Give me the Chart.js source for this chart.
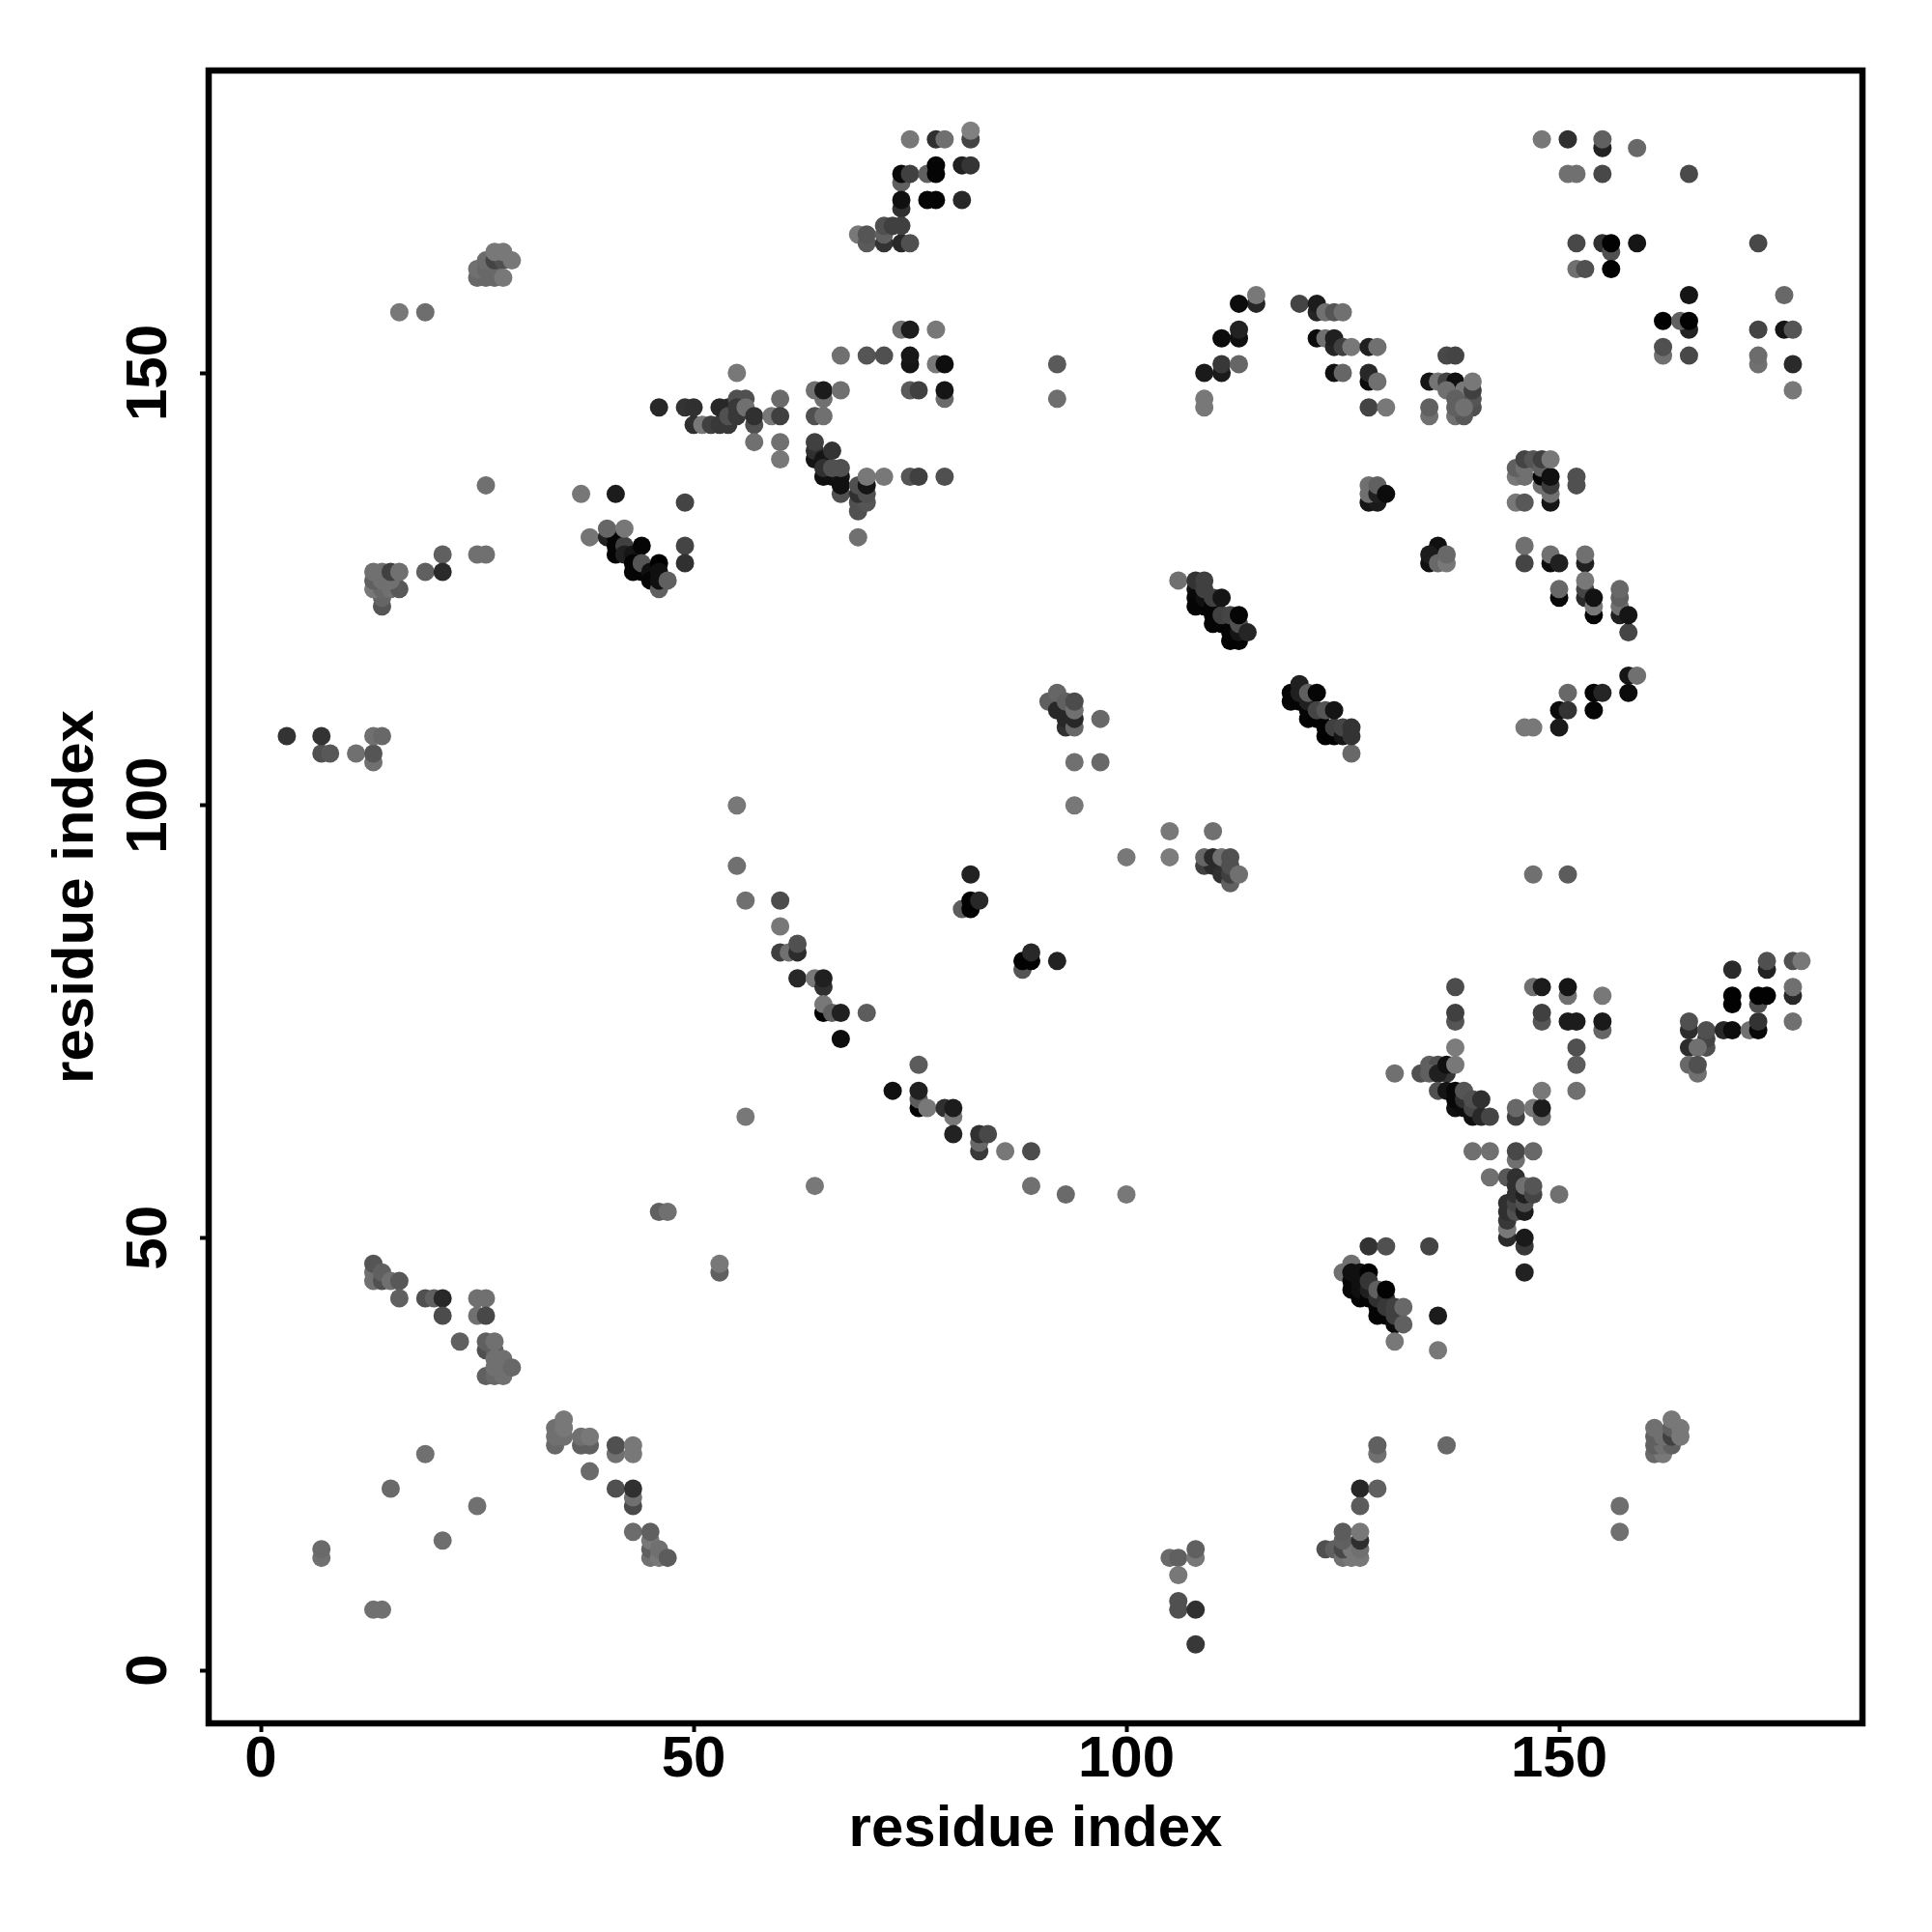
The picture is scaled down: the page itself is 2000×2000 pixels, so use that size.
<!DOCTYPE html>
<html>
<head>
<meta charset="utf-8">
<script src="https://cdn.jsdelivr.net/npm/chart.js@4/dist/chart.umd.min.js"></script>
<style>
  html, body { margin: 0; background: #fff; }
  canvas { display: block; }
</style>
</head>
<body>
<canvas id="chart" width="2000" height="2000"></canvas>
<script>
// one line per cluster, the same line in all three arrays
const residueX = [
  16,19,
  25,26,27,25,26,27,26,27,28,29,28,27,28,
  26,37,41,49,49,49,21,25,26,19,21,
  14,14,13,14,15,16,13,14,15,13,14,15,16,
  38,40,41,41,41,42,42,43,44,43,43,44,44,45,45,46,46,46,46,47,40,42,
  46,49,50,50,51,52,53,54,53,54,54,55,55,56,55,56,57,57,55,57,59,60,60,60,60,
  75,78,79,82,82,74,74,75,77,78,78,81,82,74,74,77,78,81,69,70,72,74,75,70,72,72,73,74,
  74,75,78,67,70,72,75,75,78,79,92,92,64,65,65,67,75,76,79,79,64,65,
  64,64,65,65,66,67,67,67,65,66,67,66,64,69,69,70,69,70,69,70,70,72,75,76,79,69,
  115,115,113,120,122,122,123,124,125,113,113,111,122,123,124,124,125,126,111,111,113,109,124,125,109,109,
  106,108,108,108,109,109,108,109,109,110,110,110,110,111,111,111,112,113,112,113,112,113,113,114,
  148,151,155,155,159,151,152,155,165,152,155,156,156,159,173,152,153,156,165,176,162,165,164,165,173,176,177,162,162,165,173,173,177,177,
  128,129,128,128,129,128,130,137,138,
  135,136,137,138,138,137,139,138,140,140,140,140,135,135,138,139,138,139,
  145,146,145,146,146,147,148,148,148,148,149,149,149,149,149,152,152,145,146,
  128,129,128,128,129,129,130,
  136,135,135,136,137,137,
  146,146,149,149,150,153,153,150,150,153,153,153,154,154,154,157,157,157,157,158,158,
  119,119,120,120,120,121,121,121,121,122,122,122,123,123,123,124,124,124,125,125,126,126,126,
  158,159,158,151,154,155,154,150,151,150,146,147,
  105,110,105,100,109,110,109,110,111,111,112,112,112,112,113,147,151,
  138,147,148,151,151,155,138,138,148,148,151,152,155,155,138,152,152,152,
  131,134,135,136,137,135,136,137,138,
  136,137,138,138,138,139,139,139,140,140,140,141,141,142,
  145,145,147,148,148,148,140,142,145,145,147,
  170,170,170,165,165,167,167,167,169,170,165,166,165,166,166,172,173,173,173,173,174,174,174,177,178,177,177,177,
  142,144,145,145,144,144,144,144,144,145,145,145,146,146,146,146,147,147,150,146,146,146,
  128,130,135,
  125,126,126,126,126,127,127,127,128,127,128,128,128,129,129,129,129,130,130,130,130,131,131,131,132,132,131,136,136,
  129,129,137,127,129,127,157,157,
  161,162,161,162,163,161,162,163,161,163,164,164,163,
  123,124,125,126,127,125,126,127,125,125,127,127,
  7,7,15,19,21,25,13,14,
  34,34,34,35,35,35,37,38,37,38,38,41,41,43,43,41,43,43,43,43,45,45,45,45,46,46,47,
  3,7,7,8,11,13,13,13,14,
  13,13,13,14,14,15,16,16,19,20,21,21,23,25,26,25,26,26,27,26,27,26,27,28,27,28,27,28,29,
  55,55,56,60,60,60,61,62,62,62,64,65,65,65,65,66,67,70,67,
  82,81,82,82,83,88,88,89,89,92,
  94,76,73,76,76,76,77,79,80,80,80,83,83,83,84,86,89,89,93,100,56,64,53,53,46,47,
  91,92,92,93,93,93,93,94,94,94,94,97,94,97,
  105,106,108,108,106,106,106,108,108
];
const residueY = [
  157,157,
  161,161,161,162,162,162,163,163,163,163,161,164,164,
  137,136,136,135,130,128,129,129,129,127,127,
  123,124,125,125,125,125,126,126,126,127,127,127,127,
  131,131,131,130,129,130,129,129,130,128,127,127,128,127,126,128,127,125,126,126,132,132,
  146,146,146,144,144,144,144,144,146,146,145,145,147,147,146,146,144,145,150,142,145,147,145,142,140,
  177,177,177,177,178,172,173,173,173,174,173,174,174,169,170,170,170,170,166,165,165,165,165,166,166,167,167,167,
  155,155,155,152,152,152,151,152,151,151,151,147,148,147,148,148,148,148,147,148,145,145,
  140,141,140,138,138,138,136,137,139,139,139,141,142,134,135,135,136,136,137,137,138,138,138,138,138,131,
  158,159,158,158,157,158,157,157,157,154,155,154,154,154,153,154,153,153,150,151,151,150,150,150,146,147,
  126,125,124,123,123,124,126,125,126,122,121,123,124,121,122,124,119,119,120,120,122,121,122,120,
  177,177,176,177,176,173,173,173,173,165,165,164,165,165,165,162,162,162,159,159,156,155,156,156,155,155,155,152,153,152,151,152,151,148,
  153,153,149,150,149,146,146,152,152,
  149,149,149,148,149,148,148,147,146,147,148,149,145,146,145,145,146,146,
  138,138,139,139,140,140,137,138,139,140,135,136,137,138,140,137,138,135,135,
  135,135,136,137,136,137,136,
  130,128,129,128,128,129,
  128,130,128,129,128,128,129,124,125,124,125,126,122,123,124,122,123,124,125,120,122,
  112,113,112,113,114,110,111,112,113,113,110,111,108,109,111,108,109,111,108,109,106,108,109,
  115,115,113,113,113,113,111,111,111,109,109,109,
  97,97,94,94,93,93,94,94,92,94,91,92,93,94,92,92,92,
  79,79,79,78,79,78,75,76,75,76,75,75,74,75,72,72,70,67,
  69,69,70,70,69,69,69,70,70,
  67,67,65,66,67,65,66,67,64,65,66,64,66,64,
  64,65,65,64,65,67,60,60,59,60,60,
  81,77,78,74,75,72,73,74,74,74,72,72,70,69,70,74,74,75,77,78,78,81,82,82,82,78,79,75,
  57,57,57,56,50,51,52,53,54,53,54,55,53,54,55,56,55,56,55,49,50,46,
  49,49,49,
  46,47,45,44,46,43,45,46,46,44,43,44,45,41,42,43,44,41,43,42,44,40,41,42,40,42,38,41,37,
  25,26,26,21,21,19,19,16,
  25,25,26,26,26,27,27,27,28,28,27,28,29,
  14,14,13,13,13,14,14,14,15,16,15,16,
  13,14,21,25,15,19,7,7,
  26,27,28,27,28,29,26,26,27,27,23,25,26,25,26,21,19,20,21,16,13,14,15,16,13,14,13,
  108,106,108,106,106,105,106,108,108,
  45,46,47,45,46,45,45,43,43,43,43,41,38,43,43,41,41,37,37,38,38,34,34,34,36,36,35,35,35,
  100,93,89,89,86,83,83,83,84,80,80,79,80,76,77,76,76,76,73,
  92,88,88,89,89,81,82,82,83,82,
  100,70,67,65,66,67,65,65,64,65,62,60,61,62,62,60,60,56,55,55,64,56,46,47,53,53,
  112,111,113,109,110,111,112,109,110,111,112,110,105,105,
  13,13,13,14,11,7,8,7,3
];
// grey level of each contact
const contactGrey = [
  0x78,0x6e,
  0x68,0x68,0x68,0x70,0x68,0x68,0x6c,0x44,0x50,0x78,0x78,0x78,0x78,
  0x70,0x77,0x1c,0x44,0x44,0x30,0x60,0x70,0x70,0x60,0x2a,
  0x55,0x65,0x78,0x68,0x70,0x58,0x60,0x70,0x70,0x70,0x70,0x40,0x70,
  0x75,0x22,0x05,0x05,0x05,0x40,0x20,0x15,0x05,0x05,0x05,0x05,0x55,0x10,0x05,0x00,0x10,0x60,0x10,0x60,0x66,0x77,
  0x28,0x33,0x30,0x30,0x78,0x40,0x38,0x38,0x28,0x28,0x50,0x38,0x50,0x50,0x38,0x70,0x50,0x30,0x78,0x70,0x78,0x6a,0x40,0x70,0x78,
  0x78,0x30,0x70,0x44,0x80,0x60,0x0a,0x40,0x60,0x05,0x05,0x20,0x35,0x30,0x10,0x05,0x05,0x28,0x78,0x5a,0x33,0x28,0x50,0x55,0x60,0x50,0x40,0x40,
  0x70,0x1c,0x78,0x70,0x55,0x50,0x15,0x18,0x78,0x0e,0x5a,0x6e,0x70,0x70,0x1c,0x70,0x5a,0x40,0x6a,0x15,0x50,0x70,
  0x15,0x30,0x15,0x10,0x10,0x15,0x50,0x10,0x30,0x50,0x50,0x33,0x40,0x50,0x50,0x55,0x30,0x50,0x50,0x15,0x78,0x78,0x55,0x40,0x50,0x70,
  0x25,0x78,0x0c,0x44,0x25,0x1c,0x70,0x55,0x70,0x10,0x22,0x0c,0x0c,0x70,0x25,0x20,0x40,0x78,0x1a,0x38,0x66,0x1a,0x10,0x66,0x78,0x78,
  0x70,0x10,0x08,0x05,0x05,0x10,0x33,0x40,0x40,0x05,0x05,0x05,0x40,0x05,0x40,0x15,0x02,0x02,0x05,0x15,0x45,0x50,0x05,0x25,
  0x78,0x30,0x22,0x60,0x68,0x70,0x70,0x48,0x4a,0x48,0x30,0x50,0x02,0x15,0x48,0x70,0x50,0x02,0x15,0x68,0x02,0x22,0x60,0x02,0x44,0x15,0x55,0x70,0x50,0x48,0x70,0x6c,0x2a,0x78,
  0x20,0x70,0x0c,0x28,0x70,0x44,0x78,0x48,0x44,
  0x15,0x75,0x44,0x08,0x10,0x70,0x78,0x60,0x50,0x55,0x40,0x78,0x70,0x60,0x70,0x58,0x60,0x70,
  0x78,0x70,0x60,0x70,0x44,0x55,0x70,0x05,0x60,0x40,0x15,0x70,0x3a,0x10,0x78,0x50,0x50,0x78,0x58,
  0x15,0x1a,0x70,0x70,0x20,0x60,0x0c,
  0x10,0x10,0x1c,0x68,0x78,0x68,
  0x44,0x70,0x0c,0x70,0x20,0x20,0x70,0x08,0x68,0x2a,0x45,0x78,0x05,0x78,0x12,0x20,0x70,0x60,0x68,0x45,0x15,
  0x05,0x05,0x05,0x20,0x20,0x02,0x05,0x20,0x60,0x05,0x02,0x45,0x02,0x02,0x55,0x02,0x40,0x15,0x15,0x45,0x68,0x33,0x33,
  0x15,0x70,0x0c,0x68,0x05,0x25,0x05,0x0c,0x33,0x1a,0x78,0x78,
  0x78,0x70,0x7c,0x78,0x40,0x2a,0x66,0x2a,0x30,0x70,0x60,0x40,0x50,0x50,0x70,0x70,0x5c,
  0x4c,0x70,0x1c,0x70,0x15,0x78,0x55,0x40,0x55,0x40,0x1c,0x1c,0x66,0x1a,0x7c,0x50,0x5c,0x70,
  0x70,0x50,0x60,0x50,0x35,0x60,0x20,0x10,0x78,
  0x50,0x15,0x10,0x08,0x08,0x0c,0x30,0x55,0x10,0x45,0x50,0x28,0x30,0x45,
  0x40,0x68,0x78,0x68,0x1c,0x78,0x70,0x70,0x70,0x48,0x68,
  0x2a,0x02,0x02,0x2c,0x50,0x50,0x45,0x50,0x28,0x0c,0x2c,0x70,0x68,0x70,0x50,0x70,0x08,0x33,0x50,0x02,0x02,0x22,0x50,0x50,0x78,0x28,0x70,0x70,
  0x70,0x58,0x30,0x30,0x2a,0x78,0x38,0x30,0x30,0x50,0x45,0x30,0x1c,0x50,0x20,0x70,0x45,0x55,0x70,0x38,0x1a,0x22,
  0x33,0x50,0x44,
  0x70,0x70,0x08,0x08,0x10,0x05,0x10,0x10,0x02,0x10,0x05,0x20,0x35,0x05,0x05,0x30,0x60,0x05,0x30,0x38,0x02,0x0c,0x40,0x40,0x60,0x68,0x78,0x1c,0x78,
  0x70,0x60,0x68,0x28,0x60,0x5c,0x6e,0x70,
  0x68,0x78,0x60,0x70,0x60,0x60,0x70,0x40,0x70,0x60,0x78,0x78,0x78,
  0x50,0x60,0x70,0x78,0x78,0x48,0x78,0x70,0x60,0x5c,0x2e,0x78,
  0x70,0x6a,0x6a,0x70,0x6e,0x70,0x70,0x70,
  0x68,0x70,0x70,0x70,0x78,0x78,0x60,0x60,0x70,0x78,0x6a,0x70,0x50,0x78,0x78,0x50,0x4a,0x70,0x30,0x6c,0x70,0x60,0x78,0x60,0x78,0x70,0x5c,
  0x33,0x50,0x33,0x58,0x70,0x70,0x55,0x70,0x68,
  0x70,0x70,0x55,0x50,0x60,0x70,0x58,0x60,0x50,0x60,0x28,0x4c,0x60,0x70,0x70,0x70,0x48,0x50,0x60,0x60,0x70,0x60,0x68,0x70,0x70,0x70,0x70,0x70,0x68,
  0x78,0x70,0x70,0x4c,0x78,0x40,0x70,0x2c,0x50,0x28,0x78,0x30,0x20,0x02,0x78,0x60,0x20,0x5c,0x0c,
  0x22,0x5c,0x02,0x02,0x28,0x55,0x02,0x02,0x28,0x22,
  0x78,0x5c,0x10,0x02,0x5c,0x20,0x78,0x30,0x78,0x1c,0x22,0x38,0x68,0x30,0x48,0x78,0x4c,0x70,0x6a,0x78,0x78,0x78,0x60,0x78,0x60,0x70,
  0x60,0x28,0x66,0x30,0x28,0x28,0x60,0x68,0x28,0x70,0x4c,0x68,0x70,0x68,
  0x6a,0x60,0x78,0x60,0x78,0x50,0x50,0x30,0x38
];
const xTickValues = [0, 50, 100, 150];
const yTickValues = [0, 50, 100, 150];
const axisLabel = 'residue index';

const FONT = 'Liberation Sans, Arimo, Arial, sans-serif';

const boxPlugin = {
  id: 'box',
  afterDraw(chart) {
    const { ctx, chartArea: a } = chart;
    ctx.save();
    ctx.strokeStyle = '#000';
    ctx.lineWidth = 6.5;
    ctx.strokeRect(a.left, a.top, a.right - a.left, a.bottom - a.top);
    ctx.restore();
  }
};

new Chart(document.getElementById('chart'), {
  type: 'scatter',
  data: {
    datasets: [{
      data: residueX.map((x, i) => ({ x, y: residueY[i] })),
      backgroundColor: contactGrey.map(g => `rgb(${g},${g},${g})`),
      borderWidth: 0,
      pointRadius: 9.5,
      pointHoverRadius: 9.5
    }]
  },
  options: {
    responsive: false,
    animation: false,
    devicePixelRatio: 1,
    layout: { autoPadding: false, padding: { left: 0, top: 73, right: 72, bottom: 0 } },
    plugins: { legend: { display: false }, tooltip: { enabled: false } },
    scales: {
      x: {
        type: 'linear',
        min: -6.03,
        max: 185.04,
        afterBuildTicks: axis => { axis.ticks = xTickValues.map(value => ({ value })); },
        afterFit: axis => { axis.height = 216; },
        grid: { drawOnChartArea: false, tickLength: 9, tickWidth: 4, tickColor: '#000' },
        border: { display: false },
        ticks: {
          autoSkip: false,
          maxRotation: 0,
          padding: -7,
          color: '#000',
          font: { family: FONT, size: 60, weight: 'bold' }
        },
        title: {
          display: true,
          text: axisLabel,
          color: '#000',
          padding: { top: 0, bottom: 70 },
          font: { family: FONT, size: 60, weight: 'bold' }
        }
      },
      y: {
        type: 'linear',
        min: -6.14,
        max: 184.96,
        afterBuildTicks: axis => { axis.ticks = yTickValues.map(value => ({ value })); },
        afterFit: axis => { axis.width = 216; },
        grid: { drawOnChartArea: false, tickLength: 9, tickWidth: 4, tickColor: '#000' },
        border: { display: false },
        ticks: {
          autoSkip: false,
          minRotation: 90,
          maxRotation: 90,
          crossAlign: 'center',
          padding: 1,
          color: '#000',
          font: { family: FONT, size: 60, weight: 'bold' }
        },
        title: {
          display: true,
          text: axisLabel,
          color: '#000',
          padding: { top: 43, bottom: 0 },
          font: { family: FONT, size: 60, weight: 'bold' }
        }
      }
    }
  },
  plugins: [boxPlugin]
});
</script>
</body>
</html>
